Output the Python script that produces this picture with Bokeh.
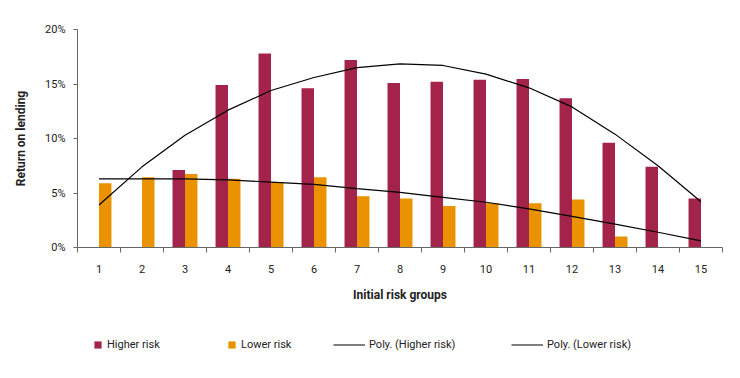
import numpy as np
from bokeh.plotting import figure
from bokeh.layouts import column
from bokeh.models import (ColumnDataSource, Range1d, FixedTicker, CustomJSTickFormatter,
                          Legend, LegendItem, CDSView, IndexFilter)
from bokeh.transform import dodge
from bokeh.embed import file_html
from bokeh.resources import INLINE

groups = list(range(1, 16))
higher_risk = [None, None, 7.1, 14.9, 17.8, 14.6, 17.2, 15.1, 15.2, 15.4, 15.45, 13.7, 9.6, 7.4, 4.5]
lower_risk = [5.9, 6.45, 6.75, 6.3, 6.0, 6.45, 4.7, 4.5, 3.8, 4.05, 4.05, 4.4, 1.0, None, None]
higher_trend = [3.9, 7.4, 10.3, 12.6, 14.4, 15.6, 16.5, 16.85, 16.7, 15.9, 14.65, 12.9, 10.4, 7.5, 4.2]
lower_trend = [6.3, 6.3, 6.3, 6.2, 6.0, 5.8, 5.4, 5.05, 4.6, 4.15, 3.55, 2.85, 2.15, 1.4, 0.6]
y_ticks = [0, 5, 10, 15, 20]
legend_labels = ["Higher risk", "Lower risk", "Poly. (Higher risk)", "Poly. (Lower risk)"]

HIGH_COLOR = "#A4234A"
LOW_COLOR = "#EA9200"
FONT = "Roboto"
TEXT = "#222222"
AXIS = "#666666"

src = ColumnDataSource(dict(
    x=groups,
    high=np.array(higher_risk, dtype=float),
    low=np.array(lower_risk, dtype=float),
    high_trend=higher_trend,
    low_trend=lower_trend,
))

x_range = Range1d(0.5, 15.5)
p = figure(width=724, height=318, x_range=x_range, y_range=Range1d(0, 20),
           output_backend="svg", toolbar_location=None,
           min_border_left=77, min_border_right=2, min_border_top=29, min_border_bottom=71)
p.xgrid.visible = False
p.ygrid.visible = False
p.outline_line_color = None

p.vbar(x=dodge("x", -0.145, range=x_range), top="high", width=0.29, source=src,
       fill_color=HIGH_COLOR, line_color=None)
p.vbar(x=dodge("x", 0.145, range=x_range), top="low", width=0.29, source=src,
       fill_color=LOW_COLOR, line_color=None)
p.line(x="x", y="high_trend", source=src, line_color="black", line_width=1.2)
p.line(x="x", y="low_trend", source=src, line_color="black", line_width=1.2)

# x axis
xa = p.xaxis[0]
xa.ticker = FixedTicker(ticks=groups, minor_ticks=[g - 0.5 for g in groups] + [15.5])
xa.major_tick_line_color = None
xa.major_tick_out = 5
xa.major_tick_in = 0
xa.minor_tick_out = 5
xa.minor_tick_in = 0
xa.minor_tick_line_color = AXIS
xa.axis_line_color = AXIS
xa.major_label_standoff = 12
xa.major_label_text_font = FONT
xa.major_label_text_font_size = "11px"
xa.major_label_text_color = TEXT
xa.axis_label = "Initial risk groups"
xa.axis_label_text_font = FONT
xa.axis_label_text_font_size = "12px"
xa.axis_label_text_font_style = "bold"
xa.axis_label_text_color = TEXT
xa.axis_label_standoff = 12

# y axis
ya = p.yaxis[0]
ya.ticker = FixedTicker(ticks=y_ticks, minor_ticks=[])
ya.formatter = CustomJSTickFormatter(code="return tick + '%';")
ya.major_tick_out = 4
ya.major_tick_in = 0
ya.major_tick_line_color = AXIS
ya.minor_tick_line_color = None
ya.axis_line_color = AXIS
ya.major_label_standoff = 8
ya.major_label_text_font = FONT
ya.major_label_text_font_size = "11px"
ya.major_label_text_color = TEXT
ya.axis_label = "Return on lending"
ya.axis_label_text_font = FONT
ya.axis_label_text_font_size = "12px"
ya.axis_label_text_font_style = "bold"
ya.axis_label_text_color = TEXT
ya.axis_label_standoff = 14

# legend strip: legend-only renderers whose views select an empty (NaN) row / single point,
# so nothing is drawn in this strip except the legend itself
lg_fig = figure(width=724, height=44, x_range=Range1d(-20, -19), y_range=Range1d(-20, -19),
                x_axis_type=None, y_axis_type=None, output_backend="svg",
                toolbar_location=None, min_border=0)
lg_fig.xgrid.visible = False
lg_fig.ygrid.visible = False
lg_fig.outline_line_color = None

first_row = CDSView(filter=IndexFilter(indices=[0]))
g_high = lg_fig.vbar(x="x", top="high", width=0.29, source=src,
                     view=CDSView(filter=IndexFilter(indices=[0])),
                     fill_color=HIGH_COLOR, line_color=None)
g_low = lg_fig.vbar(x="x", top="low", width=0.29, source=src,
                    view=CDSView(filter=IndexFilter(indices=[13])),
                    fill_color=LOW_COLOR, line_color=None)
g_ht = lg_fig.line(x="x", y="high_trend", source=src,
                   view=CDSView(filter=IndexFilter(indices=[0])),
                   line_color="black", line_width=1.2)
g_lt = lg_fig.line(x="x", y="low_trend", source=src,
                   view=CDSView(filter=IndexFilter(indices=[0])),
                   line_color="black", line_width=1.2)


def add_legend(label, renderer, loc, gw, gh, standoff):
    lg = Legend(items=[LegendItem(label=label, renderers=[renderer])], location=loc,
                orientation="horizontal", margin=0, padding=0, border_line_color=None,
                background_fill_alpha=0, glyph_width=gw, glyph_height=gh, label_height=gh,
                label_standoff=standoff, label_text_font=FONT, label_text_font_size="11px",
                label_text_color=TEXT)
    lg_fig.add_layout(lg)


add_legend(legend_labels[0], g_high, (16, 11), 9, 9, 5)
add_legend(legend_labels[1], g_low, (150, 11), 9, 9, 5)
add_legend(legend_labels[2], g_ht, (256, 11), 32, 9, 4)
add_legend(legend_labels[3], g_lt, (434, 11), 32, 9, 4)

layout = column(p, lg_fig, spacing=0)
open("out.html", "w").write(file_html(layout, INLINE))
